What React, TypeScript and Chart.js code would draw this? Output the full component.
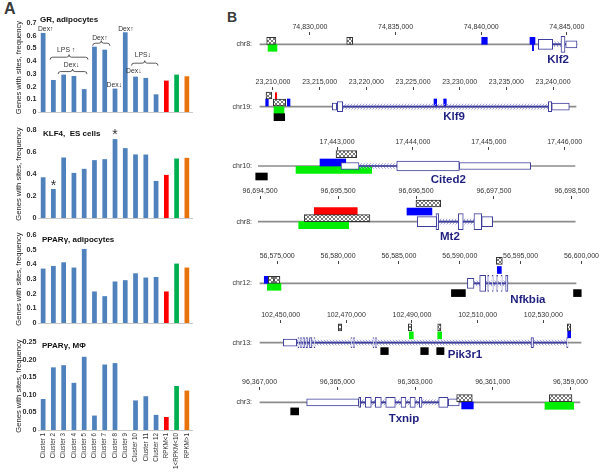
import React, { useEffect, useRef } from 'react';
import { Chart, registerables } from 'chart.js';

Chart.register(...registerables);

// ---------------- Panel A data ----------------
const CATEGORIES = [
  'Cluster 1', 'Cluster 2', 'Cluster 3', 'Cluster 4', 'Cluster 5', 'Cluster 6',
  'Cluster 7', 'Cluster 8', 'Cluster 9', 'Cluster 10', 'Cluster 11', 'Cluster 12',
  'RPKM<1', '1<RPKM<10', 'RPKM>1',
];
const GR_ADIPOCYTES = [0.622, 0.252, 0.294, 0.283, 0.18, 0.514, 0.49, 0.184, 0.627, 0.278, 0.268, 0.139, 0.247, 0.294, 0.281];
const KLF4_ES = [0.37, 0.264, 0.55, 0.41, 0.447, 0.526, 0.535, 0.717, 0.635, 0.578, 0.577, 0.337, 0.392, 0.541, 0.547];
const PPARG_ADIPOCYTES = [0.371, 0.389, 0.414, 0.378, 0.505, 0.215, 0.183, 0.283, 0.292, 0.339, 0.31, 0.314, 0.215, 0.405, 0.378];
const PPARG_MACROPHAGES = [0.088, 0.178, 0.184, 0.134, 0.208, 0.041, 0.186, 0.19, 0, 0.084, 0.096, 0.043, 0.037, 0.125, 0.112];

const GR_LABELS = [
  { text: 'Dex↑', at: 0.25, y: 0.65 },
  { text: 'LPS ↑', at: 2.24, y: 0.483 },
  { text: 'Dex↓', at: 2.77, y: 0.365 },
  { text: 'Dex↑', at: 5.53, y: 0.58 },
  { text: 'Dex↓', at: 6.93, y: 0.215 },
  { text: 'Dex↑', at: 8.06, y: 0.655 },
  { text: 'LPS↓', at: 9.71, y: 0.449 },
  { text: 'Dex↓', at: 8.83, y: 0.318 },
];
const GR_BRACES = [
  { from: 0.68, to: 4.37, y: 0.431 },
  { from: 1.46, to: 4.27, y: 0.318 },
  { from: 4.83, to: 6.5, y: 0.541 },
  { from: 8.61, to: 11.19, y: 0.384 },
];
const KLF4_STARS = [
  { at: 1, y: 0.29 },
  { at: 7, y: 0.75 },
];

// ---------------- Panel B data ----------------
// marks: [kind, start, end, lane]   gene parts: [part, start, end]
const KLF2_MARKS = [
  ['green', 74827550, 74828070, 0.5],
  ['hatch', 74827470, 74828010, -0.5],
  ['hatch', 74832144, 74832494, -0.5],
  ['blue', 74840029, 74840356, -0.5],
  ['blue', 74842850, 74843142, -0.5],
  ['blue', 74842990, 74843060, 0.4],
];
const KLF2_GENE = [
  ['cds', 74843335, 74844176],
  ['intron', 74844176, 74844935],
  ['tall', 74844661, 74844895],
  ['utr', 74844935, 74845595],
];
const KLF9_MARKS = [
  ['hatch', 23209250, 23209861, -1.6],
  ['red', 23210250, 23210400, -1.5],
  ['blue', 23209218, 23209496, -0.6],
  ['blue', 23211532, 23211821, -0.6],
  ['hatch', 23210032, 23211361, -0.6],
  ['green', 23210107, 23211179, 0.5],
  ['black', 23210107, 23211254, 1.5],
  ['blue', 23227250, 23227538, -0.6],
  ['blue', 23228289, 23228567, -0.6],
];
const KLF9_GENE = [
  ['utr', 23216353, 23216825],
  ['cds', 23216889, 23217468],
  ['intron', 23217468, 23239496],
  ['cds', 23239496, 23239860],
  ['utr', 23239860, 23241746],
];
const CITED2_MARKS = [
  ['hatch', 17442987, 17443260, -1.7],
  ['blue', 17442776, 17443115, -0.5],
  ['green', 17442460, 17443457, 0.55],
  ['black', 17441929, 17442082, 1.5],
];
const CITED2_GENE = [
  ['utr', 17443053, 17443290],
  ['intron', 17443290, 17443787],
  ['cds', 17443787, 17444611],
  ['utr', 17444611, 17445552],
];
const MT2_MARKS = [
  ['red', 96695195, 96695746, -1.5],
  ['hatch', 96695066, 96695909, -0.5],
  ['green', 96694995, 96695636, 0.5],
  ['hatch', 96696499, 96696816, -2.6],
  ['blue', 96696384, 96696704, -1.45],
];
const MT2_GENE = [
  ['cds', 96696516, 96696765],
  ['tall', 96696756, 96696790],
  ['intron', 96696790, 96697243],
  ['tall', 96697042, 96697106],
  ['tall', 96697243, 96697342],
  ['cds', 96697342, 96697483],
];
const NFKBIA_MARKS = [
  ['blue', 56573937, 56574266, -0.5],
  ['hatch', 56574266, 56574733, -0.5],
  ['hatch', 56574733, 56575226, -0.5],
  ['green', 56574184, 56575308, 0.5],
  ['black', 56589314, 56590462, 1.4],
  ['black', 56599348, 56599980, 1.4],
  ['hatch', 56593006, 56593498, -3.2],
  ['blue', 56593088, 56593416, -1.9],
];
const NFKBIA_GENE = [
  ['cds', 56590626, 56591168],
  ['intron', 56591168, 56593958],
  ['tall', 56591636, 56592128],
  ['tall', 56592292, 56592374],
  ['tall', 56592661, 56592743],
  ['tall', 56593031, 56593113],
  ['tall', 56593400, 56593482],
  ['tall', 56593769, 56593958],
];
const PIK3R1_MARKS = [
  ['hatch', 102467551, 102468587, -2.2],
  ['hatch', 102488873, 102489909, -2.2],
  ['green', 102489178, 102490396, -1.05],
  ['hatch', 102497828, 102498833, -2.2],
  ['green', 102497828, 102499047, -1.05],
  ['hatch', 102537304, 102538340, -2.2],
  ['blue', 102537426, 102538340, -1.2],
  ['black', 102480466, 102482781, 1.2],
  ['black', 102492650, 102494965, 1.2],
  ['black', 102497524, 102499747, 1.2],
];
const PIK3R1_GENE = [
  ['utr', 102450798, 102454880],
  ['intron', 102454880, 102537122],
  ['cds', 102455276, 102455580],
  ['cds', 102456037, 102456342],
  ['cds', 102456799, 102457255],
  ['cds', 102457712, 102458169],
  ['cds', 102458778, 102459540],
  ['cds', 102460149, 102460454],
  ['cds', 102471419, 102471724],
  ['cds', 102472181, 102472485],
  ['cds', 102478121, 102478425],
  ['cds', 102478882, 102479187],
  ['cds', 102526247, 102527009],
  ['cds', 102537122, 102537518],
];
const TXNIP_MARKS = [
  ['black', 96365995, 96366200, 1.3],
  ['blue', 96361500, 96361799, 0.45],
  ['hatch', 96361526, 96361928, -0.6],
  ['green', 96358916, 96359655, 0.5],
  ['hatch', 96358960, 96359544, -0.6],
];
const TXNIP_GENE = [
  ['utr', 96364450, 96365789],
  ['cds', 96364399, 96364450],
  ['intron', 96362391, 96364399],
  ['cds', 96364126, 96364280],
  ['cds', 96363868, 96364023],
  ['cds', 96363508, 96363755],
  ['cds', 96363233, 96363361],
  ['cds', 96362993, 96363130],
  ['cds', 96362821, 96362890],
  ['cds', 96362152, 96362391],
  ['utr', 96361861, 96362144],
];

const KLF2_TICKS = [74830000, 74835000, 74840000, 74845000];
const KLF9_TICKS = [23210000, 23215000, 23220000, 23225000, 23230000, 23235000, 23240000];
const CITED2_TICKS = [17443000, 17444000, 17445000, 17446000];
const MT2_TICKS = [96694500, 96695500, 96696500, 96697500, 96698500];
const NFKBIA_TICKS = [56575000, 56580000, 56585000, 56590000, 56595000, 56600000];
const PIK3R1_TICKS = [102450000, 102470000, 102490000, 102510000, 102530000];
const TXNIP_TICKS = [96367000, 96365000, 96363000, 96361000, 96359000];

const TRACKS = [
  { chrom: 'chr8', gene: 'Klf2', view: [74826963, 74845888], line: [74827080, 74845595], ticks: KLF2_TICKS, name: [74844486, 2.25], marks: KLF2_MARKS, parts: KLF2_GENE, reverse: false },
  { chrom: 'chr19', gene: 'Klf9', view: [23208393, 23243106], line: [23208607, 23242464], ticks: KLF9_TICKS, name: [23229392, 1.45], marks: KLF9_MARKS, parts: KLF9_GENE, reverse: false },
  { chrom: 'chr10', gene: 'Cited2', view: [17441959, 17446228], line: [17441963, 17446136], ticks: CITED2_TICKS, name: [17444466, 2.0], marks: CITED2_MARKS, parts: CITED2_GENE, reverse: false },
  { chrom: 'chr8', gene: 'Mt2', view: [96694473, 96698629], line: [96694476, 96698542], ticks: MT2_TICKS, name: [96696935, 2.14], marks: MT2_MARKS, parts: MT2_GENE, reverse: false },
  { chrom: 'chr12', gene: 'Nfkbia', view: [56573421, 56600010], line: [56573585, 56599553], ticks: NFKBIA_TICKS, name: [56595599, 2.4], marks: NFKBIA_MARKS, parts: NFKBIA_GENE, reverse: false },
  { chrom: 'chr13', gene: 'Pik3r1', view: [102443092, 102541782], line: [102443701, 102541477], ticks: PIK3R1_TICKS, name: [102506144, 1.76], marks: PIK3R1_MARKS, parts: PIK3R1_GENE, reverse: false },
  { chrom: 'chr3', gene: 'Txnip', view: [96358702, 96367042], line: [96358754, 96366991], ticks: TXNIP_TICKS, name: [96363284, 2.3], marks: TXNIP_MARKS, parts: TXNIP_GENE, reverse: true },
];

// ---------------- styles / layout ----------------
const FONT_A = "'Liberation Sans', Arial, 'DejaVu Sans', sans-serif";
const FONT_B = "'Liberation Sans', Arial, sans-serif";
const BLUE = '#4f81bd';
const BAR_COLORS = CATEGORIES.map((_, i) => (i < 12 ? BLUE : i === 12 ? '#ff0000' : i === 13 ? '#00b050' : '#e8720c'));

const PANELS = [
  { values: GR_ADIPOCYTES, title: 'GR, adipocytes', max: 0.7, step: 0.1, decimals: 1, top: 0, height: 118, padTop: 23, padBottom: 6, xHeight: 0, showLabels: false, titleDx: 2, titleDy: -3, labels: GR_LABELS, braces: GR_BRACES, stars: [] },
  { values: KLF4_ES, title: 'KLF4,  ES cells', max: 0.8, step: 0.1, decimals: 1, top: 118, height: 106, padTop: 12, padBottom: 6, xHeight: 0, showLabels: false, titleDx: 5, titleDy: 3.5, labels: [], braces: [], stars: KLF4_STARS },
  { values: PPARG_ADIPOCYTES, title: 'PPARγ, adipocytes', max: 0.6, step: 0.1, decimals: 1, top: 224, height: 105, padTop: 11, padBottom: 6, xHeight: 0, showLabels: false, titleDx: 4, titleDy: 4.5, labels: [], braces: [], stars: [] },
  { values: PPARG_MACROPHAGES, title: 'PPARγ, MΦ', max: 0.25, step: 0.05, decimals: 2, top: 329, height: 147, padTop: 13, padBottom: 6, xHeight: 40, showLabels: true, titleDx: 4, titleDy: 4, labels: [], braces: [], stars: [] },
];

const TRACK_LAYOUT = [
  { labelY: 27, lineY: 44.3 },
  { labelY: 82.3, lineY: 106.7 },
  { labelY: 142.7, lineY: 166 },
  { labelY: 191.7, lineY: 221.7 },
  { labelY: 256, lineY: 283.3 },
  { labelY: 315, lineY: 342.7 },
  { labelY: 382.7, lineY: 402.3 },
];
const LANE_PX = 7;
const AXIS_H = 14;
const NAVY = '#3d3d9e';

const MARK_STYLE: any = {
  green: { bg: '#00ee00', order: 15 },
  black: { bg: '#000000', order: 14 },
  blue: { bg: '#0000ff', order: 13 },
  red: { bg: '#ff0000', order: 12 },
  hatch: { bg: 'HATCH', border: '#333333', bw: 1, order: 1 },
};
const PART_STYLE: any = {
  utr: 7,
  cds: 10,
  tall: 16,
};

function trackLayout(lay: any) {
  const chartTop = Math.round(lay.labelY + 7.5);
  const top = chartTop - AXIS_H;
  const height = Math.round(lay.lineY - chartTop + 3.8 * LANE_PX) + AXIS_H;
  const yMin = -(lay.lineY - chartTop) / LANE_PX;
  const yMax = yMin + (height - AXIS_H) / LANE_PX;
  return { top, height, yMin, yMax };
}

const fmtComma = (v: number) => String(Math.round(v)).replace(/\B(?=(\d{3})+(?!\d))/g, ',');

function makePatterns() {
  const h = document.createElement('canvas');
  h.width = 4; h.height = 4;
  const g = h.getContext('2d') as CanvasRenderingContext2D;
  g.fillStyle = '#ffffff'; g.fillRect(0, 0, 4, 4);
  g.fillStyle = '#7a7a7a';
  [[0, 0], [1, 1], [2, 2], [3, 3], [3, 0], [2, 1], [1, 2], [0, 3]].forEach(([x, y]) => g.fillRect(x, y, 1, 1));
  const i = document.createElement('canvas');
  i.width = 3; i.height = 5;
  const k = i.getContext('2d') as CanvasRenderingContext2D;
  k.fillStyle = '#a0a0da';
  [[0, 0], [1, 1], [2, 2], [1, 3], [0, 4]].forEach(([x, y]) => k.fillRect(x, y, 1, 1));
  const probe = document.createElement('canvas').getContext('2d') as CanvasRenderingContext2D;
  return { hatch: probe.createPattern(h, 'repeat'), intron: probe.createPattern(i, 'repeat') };
}

function braceLine(ctx: CanvasRenderingContext2D, x1: number, x2: number, y: number) {
  const h = 2.5;
  const m = (x1 + x2) / 2;
  ctx.beginPath();
  ctx.moveTo(x1, y + h);
  ctx.quadraticCurveTo(x1, y, x1 + h, y);
  ctx.lineTo(m - h, y);
  ctx.quadraticCurveTo(m, y, m, y - h);
  ctx.quadraticCurveTo(m, y, m + h, y);
  ctx.lineTo(x2 - h, y);
  ctx.quadraticCurveTo(x2, y, x2, y + h);
  ctx.stroke();
}

function notesPlugin(p: any) {
  return {
    id: 'panelNotes',
    afterDatasetsDraw(chart: any) {
      const { ctx, chartArea, scales } = chart;
      const xs = scales.x;
      const ys = scales.y;
      ctx.save();
      ctx.fillStyle = '#111';
      ctx.textBaseline = 'middle';
      ctx.textAlign = 'left';
      ctx.font = `bold 8px ${FONT_A}`;
      ctx.fillText(p.title, chartArea.left + p.titleDx, chartArea.top + p.titleDy);
      ctx.textAlign = 'center';
      ctx.font = `6.8px ${FONT_A}`;
      ctx.fillStyle = '#333';
      p.labels.forEach((a: any) => ctx.fillText(a.text, xs.getPixelForValue(a.at), ys.getPixelForValue(a.y)));
      ctx.strokeStyle = '#333';
      ctx.lineWidth = 0.8;
      p.braces.forEach((b: any) => braceLine(ctx, xs.getPixelForValue(b.from), xs.getPixelForValue(b.to), ys.getPixelForValue(b.y)));
      ctx.font = `14px ${FONT_B}`;
      ctx.fillStyle = '#333';
      p.stars.forEach((s: any) => ctx.fillText('*', xs.getPixelForValue(s.at), ys.getPixelForValue(s.y)));
      ctx.restore();
    },
  };
}

function makeBarConfig(p: any) {
  return {
    type: 'bar',
    data: {
      labels: CATEGORIES,
      datasets: [{ data: p.values, backgroundColor: BAR_COLORS, barPercentage: 0.46, categoryPercentage: 1, borderWidth: 0 }],
    },
    options: {
      animation: false,
      responsive: false,
      events: [],
      layout: { padding: { left: 13, right: 8, top: p.padTop, bottom: p.padBottom } },
      plugins: { legend: { display: false }, tooltip: { enabled: false } },
      scales: {
        x: {
          grid: { display: false, drawTicks: false },
          border: { display: true, color: '#c8c8c8', width: 1 },
          ticks: p.showLabels
            ? { display: true, autoSkip: false, minRotation: 90, maxRotation: 90, padding: 3, color: '#333', font: { family: FONT_A, size: 6.3 } }
            : { display: false },
          afterFit: (s: any) => { s.height = p.xHeight; },
        },
        y: {
          min: 0,
          max: p.max,
          grid: { display: false, drawTicks: false },
          border: { display: false },
          ticks: {
            stepSize: p.step,
            padding: 1.5,
            color: '#2a2a2a',
            font: { family: FONT_A, size: 7.2, weight: 'bold' },
            callback: (v: any) => (Math.abs(v) < 1e-9 ? '0' : Number(v).toFixed(p.decimals)),
          },
          title: { display: true, text: 'Genes with sites, frequency', color: '#222', font: { family: FONT_A, size: 7.6 }, padding: { top: 1, bottom: 0 } },
          afterFit: (s: any) => { s.width = 25; },
        },
      },
    },
    plugins: [notesPlugin(p)],
  };
}

function trackTextPlugin(t: any) {
  return {
    id: 'trackText',
    afterDraw(chart: any) {
      const { ctx, chartArea, scales } = chart;
      ctx.save();
      ctx.textBaseline = 'middle';
      ctx.font = `7px ${FONT_B}`;
      ctx.fillStyle = '#333';
      ctx.textAlign = 'right';
      ctx.fillText(t.chrom + ':', chartArea.left - 6, scales.y.getPixelForValue(0));
      ctx.font = `bold 11.5px ${FONT_B}`;
      ctx.fillStyle = '#1f1f80';
      ctx.textAlign = 'center';
      ctx.fillText(t.gene, scales.x.getPixelForValue(t.name[0]), scales.y.getPixelForValue(t.name[1]));
      ctx.restore();
    },
  };
}

function makeTrackConfig(t: any, lay: any, pats: any) {
  const base = { grouped: true, stack: 'all', clip: false, borderSkipped: false };
  const datasets: any[] = [];
  datasets.push({ ...base, data: [{ x: t.line, y: 0 }], backgroundColor: '#8c8c8c', barThickness: 1, order: 20 });
  Object.keys(MARK_STYLE).forEach((kind) => {
    const st = MARK_STYLE[kind];
    datasets.push({
      ...base,
      data: t.marks.filter((m: any) => m[0] === kind).map((m: any) => ({ x: [m[1], m[2]], y: m[3] })),
      backgroundColor: st.bg === 'HATCH' ? pats.hatch : st.bg,
      borderColor: st.border || st.bg,
      borderWidth: st.bw || 0,
      barThickness: 7,
      order: st.order,
    });
  });
  const introns = t.parts.filter((p: any) => p[0] === 'intron').map((p: any) => ({ x: [p[1], p[2]], y: 0 }));
  datasets.push({ ...base, data: introns, backgroundColor: pats.intron, barThickness: 5, order: 11 });
  datasets.push({ ...base, data: introns, backgroundColor: NAVY, barThickness: 1, order: 10 });
  Object.keys(PART_STYLE).forEach((part) => {
    datasets.push({
      ...base,
      data: t.parts.filter((p: any) => p[0] === part).map((p: any) => ({ x: [p[1], p[2]], y: 0 })),
      backgroundColor: '#ffffff',
      borderColor: NAVY,
      borderWidth: 1,
      barThickness: PART_STYLE[part],
      order: 9,
    });
  });
  return {
    type: 'bar',
    data: { datasets },
    options: {
      indexAxis: 'y',
      animation: false,
      responsive: false,
      events: [],
      layout: { padding: { left: 58, right: 18, top: 0, bottom: 0 } },
      plugins: { legend: { display: false }, tooltip: { enabled: false } },
      scales: {
        x: {
          type: 'linear',
          position: 'top',
          min: t.view[0],
          max: t.view[1],
          reverse: t.reverse,
          stacked: false,
          beginAtZero: false,
          bounds: 'data',
          grid: { drawOnChartArea: false, drawTicks: true, tickLength: 3, color: '#444' },
          border: { display: false },
          ticks: { autoSkip: false, maxRotation: 0, padding: 1, color: '#333', font: { family: FONT_B, size: 7 }, callback: (v: any) => fmtComma(v) },
          afterBuildTicks: (s: any) => { s.ticks = t.ticks.map((v: number) => ({ value: v })); },
          afterFit: (s: any) => { s.height = AXIS_H; },
        },
        y: {
          type: 'linear',
          display: false,
          stacked: true,
          offset: false,
          reverse: true,
          min: lay.yMin,
          max: lay.yMax,
        },
      },
    },
    plugins: [trackTextPlugin(t)],
  };
}

function ChartBox({ make, left, top, width, height }: any) {
  const ref = useRef<HTMLCanvasElement>(null);
  useEffect(() => {
    const chart = new Chart(ref.current as HTMLCanvasElement, make() as any);
    return () => chart.destroy();
  }, []);
  return (
    <canvas
      ref={ref}
      width={width}
      height={height}
      style={{ position: 'absolute', left, top, width, height, display: 'block' }}
    />
  );
}

let PATTERNS: any = null;
function getPatterns() {
  if (!PATTERNS) PATTERNS = makePatterns();
  return PATTERNS;
}

export default function App() {
  return (
    <div style={{ position: 'absolute', left: 0, top: 0, width: 600, height: 476, background: '#ffffff', overflow: 'hidden' }}>
      <div style={{ position: 'absolute', left: 4, top: 1, font: `bold 16px ${FONT_B}`, lineHeight: '16px', color: '#3a3a3a' }}>A</div>
      <div style={{ position: 'absolute', left: 227, top: 10, font: `bold 14px ${FONT_B}`, lineHeight: '14px', color: '#3a3a3a' }}>B</div>
      {PANELS.map((p, i) => (
        <ChartBox key={'a' + i} make={() => makeBarConfig(p)} left={0} top={p.top} width={200} height={p.height} />
      ))}
      {TRACKS.map((t, i) => {
        const lay = trackLayout(TRACK_LAYOUT[i]);
        return (
          <ChartBox key={'b' + i} make={() => makeTrackConfig(t, lay, getPatterns())} left={200} top={lay.top} width={400} height={lay.height} />
        );
      })}
    </div>
  );
}
